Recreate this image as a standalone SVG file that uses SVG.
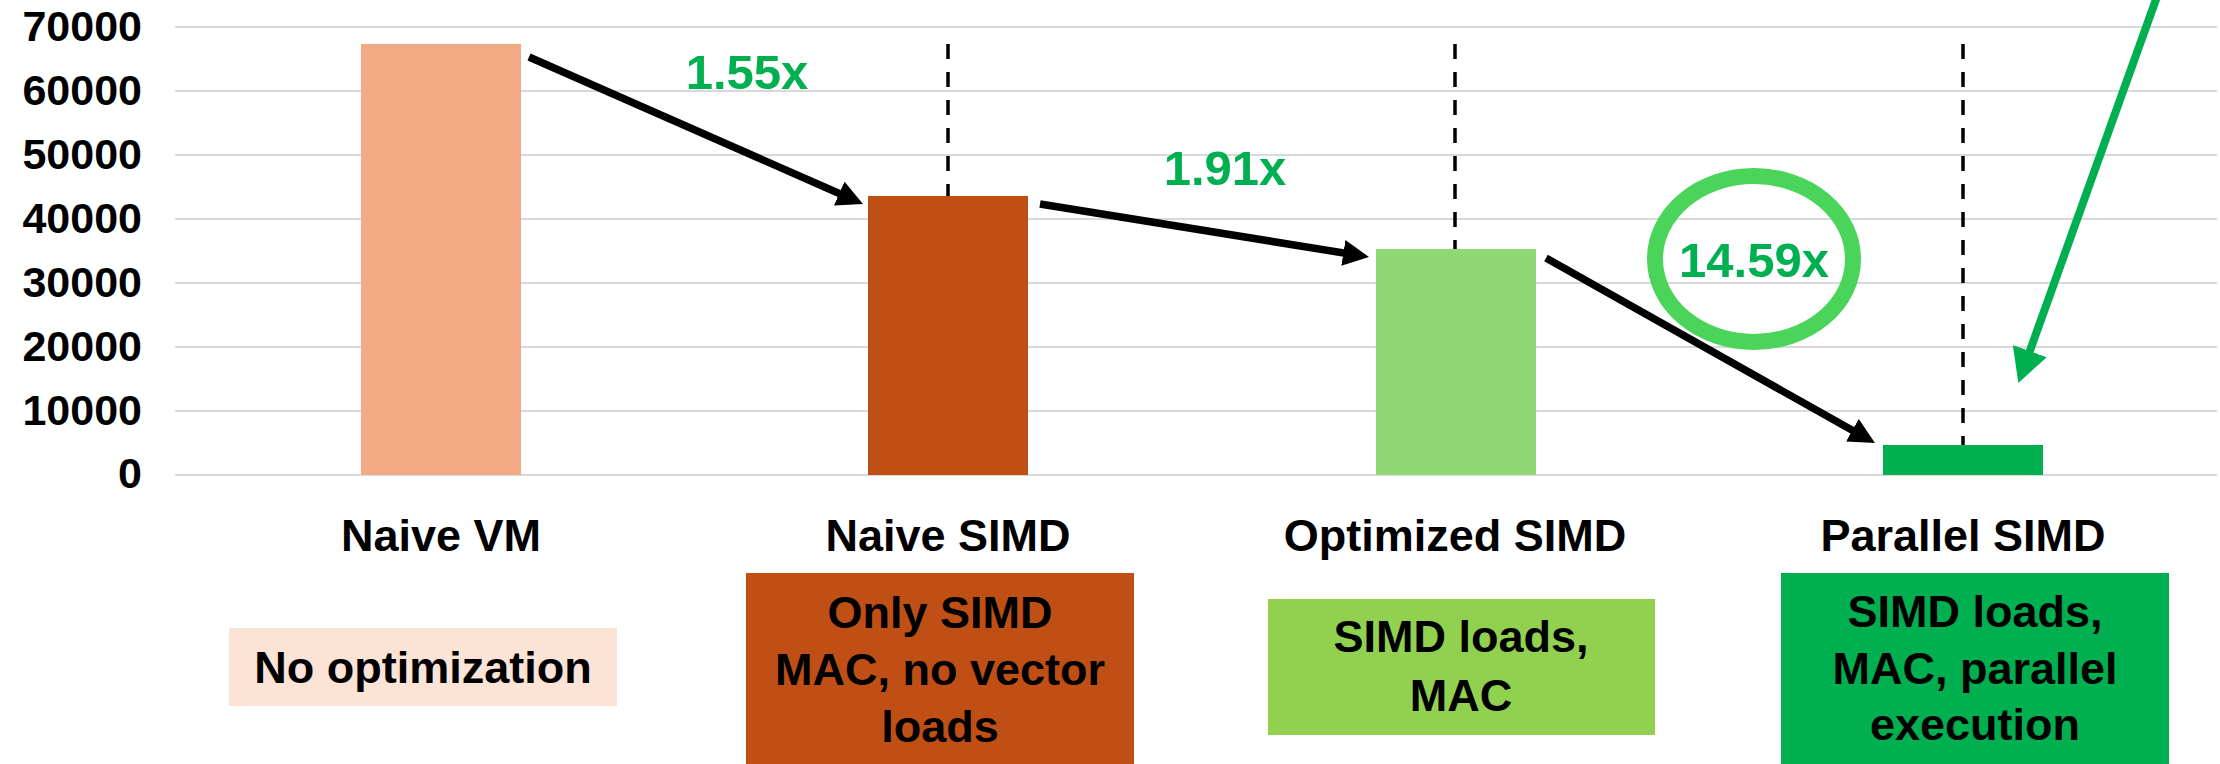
<svg xmlns="http://www.w3.org/2000/svg" width="2220" height="764" viewBox="0 0 2220 764">
  <style>
    .grid { stroke: #D9D9D9; stroke-width: 2; }
    .ytick { font-family: "Liberation Sans", Arial, sans-serif; font-weight: bold; font-size: 43px; fill: #000; text-anchor: end; }
    .cat { font-family: "Liberation Sans", Arial, sans-serif; font-weight: bold; font-size: 45px; fill: #000; text-anchor: middle; }
    .desc { font-family: "Liberation Sans", Arial, sans-serif; font-weight: bold; font-size: 45px; fill: #000; text-anchor: middle; }
    .gain { font-family: "Liberation Sans", Arial, sans-serif; font-weight: bold; font-size: 49px; fill: #00B050; text-anchor: middle; }
    .guide { stroke: #000; stroke-width: 3.5; stroke-dasharray: 15 13; fill: none; }
    .step { stroke: #000; stroke-width: 7.5; fill: none; marker-end: url(#headBlack); }
    .pointer { stroke: #00B050; stroke-width: 8; fill: none; marker-end: url(#headGreen); }
  </style>
  <defs>
    <marker id="headBlack" markerUnits="userSpaceOnUse" markerWidth="26" markerHeight="26" refX="5" refY="13" orient="auto" viewBox="0 0 26 26">
      <path d="M0,0 L26,13 L0,26 z" fill="#000"/>
    </marker>
    <marker id="headGreen" markerUnits="userSpaceOnUse" markerWidth="34" markerHeight="36" refX="5" refY="18" orient="auto" viewBox="0 0 34 36">
      <path d="M0,0 L34,18 L0,36 z" fill="#00B050"/>
    </marker>
  </defs>

  <rect width="2220" height="764" fill="#FFFFFF"/>

  <!-- value axis: gridlines and tick labels -->
  <g id="axis">
    <line class="grid" x1="175" y1="27" x2="2217" y2="27"/>
    <line class="grid" x1="175" y1="91" x2="2217" y2="91"/>
    <line class="grid" x1="175" y1="155" x2="2217" y2="155"/>
    <line class="grid" x1="175" y1="219" x2="2217" y2="219"/>
    <line class="grid" x1="175" y1="283" x2="2217" y2="283"/>
    <line class="grid" x1="175" y1="347" x2="2217" y2="347"/>
    <line class="grid" x1="175" y1="411" x2="2217" y2="411"/>
    <line class="grid" x1="175" y1="475" x2="2217" y2="475"/>
    <text class="ytick" x="142" y="41">70000</text>
    <text class="ytick" x="142" y="105">60000</text>
    <text class="ytick" x="142" y="169">50000</text>
    <text class="ytick" x="142" y="233">40000</text>
    <text class="ytick" x="142" y="297">30000</text>
    <text class="ytick" x="142" y="361">20000</text>
    <text class="ytick" x="142" y="425">10000</text>
    <text class="ytick" x="142" y="488">0</text>
  </g>

  <!-- dashed guides above the bars -->
  <g id="guides">
    <line class="guide" x1="948" y1="44" x2="948" y2="196"/>
    <line class="guide" x1="1455" y1="44" x2="1455" y2="249"/>
    <line class="guide" x1="1963" y1="44" x2="1963" y2="445"/>
  </g>

  <g id="naive-vm">
    <rect x="361" y="44" width="160" height="431" fill="#F2AA84"/>
    <text class="cat" x="441" y="551">Naive VM</text>
    <rect x="229" y="628" width="388" height="78" fill="#FBE3D6"/>
    <text class="desc" x="423" y="683">No optimization</text>
  </g>

  <g id="naive-simd">
    <rect x="868" y="196" width="160" height="279" fill="#BF4F15"/>
    <text class="cat" x="948" y="551">Naive SIMD</text>
    <rect x="746" y="573" width="388" height="191" fill="#BF4F15"/>
    <text class="desc" x="940" y="628">Only SIMD</text>
    <text class="desc" x="940" y="685">MAC, no vector</text>
    <text class="desc" x="940" y="742">loads</text>
  </g>

  <g id="optimized-simd">
    <rect x="1376" y="249" width="160" height="226" fill="#8FD873"/>
    <text class="cat" x="1455" y="551">Optimized SIMD</text>
    <rect x="1268" y="599" width="387" height="136" fill="#92D050"/>
    <text class="desc" x="1461" y="652">SIMD loads,</text>
    <text class="desc" x="1461" y="711">MAC</text>
  </g>

  <g id="parallel-simd">
    <rect x="1883" y="445" width="160" height="30" fill="#00B050"/>
    <text class="cat" x="1963" y="551">Parallel SIMD</text>
    <rect x="1781" y="573" width="388" height="191" fill="#00B050"/>
    <text class="desc" x="1975" y="627">SIMD loads,</text>
    <text class="desc" x="1975" y="684">MAC, parallel</text>
    <text class="desc" x="1975" y="740">execution</text>
  </g>

  <!-- speed-up factors -->
  <g id="speedups">
    <text class="gain" x="747" y="89">1.55x</text>
    <text class="gain" x="1225" y="185">1.91x</text>
    <ellipse cx="1754" cy="259" rx="99" ry="83" fill="none" stroke="#4AD45A" stroke-width="16"/>
    <text class="gain" x="1754" y="277">14.59x</text>
  </g>

  <!-- step arrows between bars and the callout pointer -->
  <g id="connectors">
    <line class="step" x1="529" y1="57" x2="843.8" y2="195.5"/>
    <line class="step" x1="1040" y1="204" x2="1348.3" y2="253.7"/>
    <line class="step" x1="1546" y1="258" x2="1856.7" y2="432.7"/>
    <line class="pointer" x1="2163" y1="-20" x2="2028.1" y2="355.8"/>
  </g>
</svg>
